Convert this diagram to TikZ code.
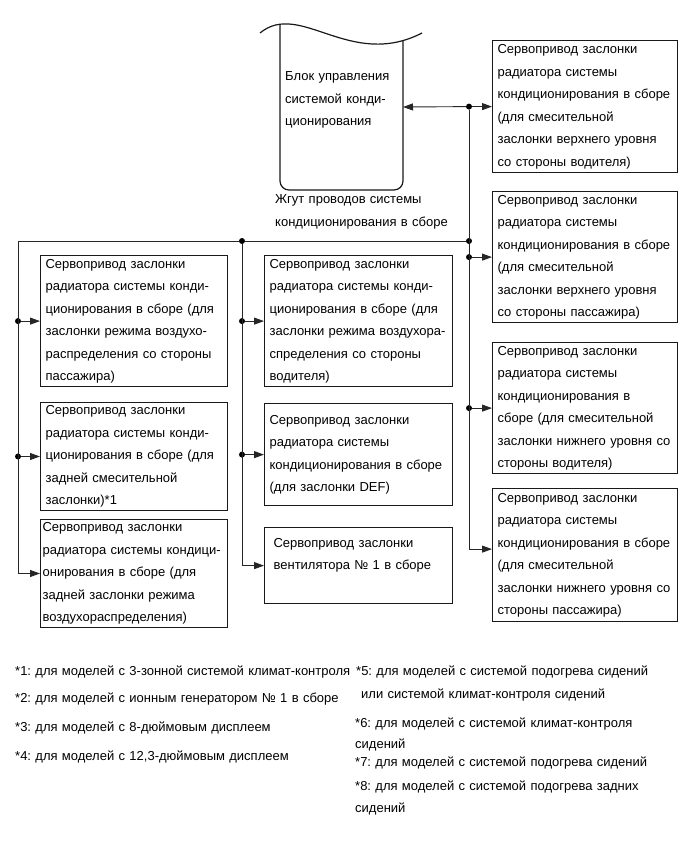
\documentclass[tikz,border=0pt]{standalone}
\usepackage{fontspec}
\setmainfont{Liberation Sans}
\usetikzlibrary{arrows.meta,calc}
\frenchspacing

\begin{document}
\begin{tikzpicture}[
    x=1pt, y=-1pt,
    font=\fontsize{13}{22.5}\selectfont,
    servo/.style={
        draw=black!90,
        line width=1.2pt,
        anchor=north west,
        align=left,
        inner xsep=5pt,
        inner ysep=3pt,
        text width=177pt
    },
    servoR/.style={servo, text width=175pt},
    servoM/.style={servo, text width=178pt},
    plain/.style={align=left, inner sep=0pt, anchor=base west, text width=#1},
    junct/.style={circle, fill=black, inner sep=0pt, minimum size=6pt},
    wire/.style={draw=black!85, line width=0.9pt},
    feed/.style={wire, -{Triangle[length=10pt,width=7pt]}},
    unitline/.style={draw=black!90, line width=1.2pt}
]
\useasboundingbox (0,0) rectangle (689,854);

% ------------------------------------------------------------
% блок управления
% ------------------------------------------------------------
\draw[unitline] (260,33) .. controls (300,0) and (350,70) .. (422,33);
\draw[unitline, rounded corners=9pt] (280,24.5) -- (280,190) -- (403,190) -- (403,40.5);
\node[plain=118pt] (ecu) at (285,80.5) {Блок управления\\системой конди-\\ционирования};
\coordinate (ecuport) at (403,107);

\node[plain=220pt] (harness) at (275,203.5) {Жгут проводов системы\\кондиционирования в сборе};

% ------------------------------------------------------------
% сервоприводы справа
% ------------------------------------------------------------
\node[servoR, minimum height=132pt] (r1) at (492,40) {Сервопривод заслонки\\радиатора системы\\кондиционирования в сборе\\(для смесительной\\заслонки верхнего уровня\\со стороны водителя)};
\node[servoR, minimum height=131pt] (r2) at (492,191) {Сервопривод заслонки\\радиатора системы\\кондиционирования в сборе\\(для смесительной\\заслонки верхнего уровня\\со стороны пассажира)};
\node[servoR, minimum height=131pt] (r3) at (492,342) {Сервопривод заслонки\\радиатора системы\\кондиционирования в\\сборе (для смесительной\\заслонки нижнего уровня со\\стороны водителя)};
\node[servoR, minimum height=133pt] (r4) at (492,488) {Сервопривод заслонки\\радиатора системы\\кондиционирования в сборе\\(для смесительной\\заслонки нижнего уровня со\\стороны пассажира)};

% ------------------------------------------------------------
% сервоприводы слева и в середине
% ------------------------------------------------------------
\node[servo, minimum height=131pt] (l1) at (40,255) {Сервопривод заслонки\\радиатора системы конди-\\ционирования в сборе (для\\заслонки режима воздухо-\\распределения со стороны\\пассажира)};
\node[servo, minimum height=103pt] (l2) at (40,402) {Сервопривод заслонки\\радиатора системы конди-\\ционирования в сборе (для\\задней смесительной\\заслонки)*1};
\node[servo, minimum height=105pt, inner xsep=2pt, text width=183pt] (l3) at (40,519) {Сервопривод заслонки\\радиатора системы кондици-\\онирования в сборе (для\\задней заслонки режима\\воздухораспределения)};

\node[servoM, minimum height=131pt] (m1) at (264,255) {Сервопривод заслонки\\радиатора системы конди-\\ционирования в сборе (для\\заслонки режима воздухора-\\спределения со стороны\\водителя)};
\node[servoM, minimum height=102pt] (m2) at (264,403) {Сервопривод заслонки\\радиатора системы\\кондиционирования в сборе\\(для заслонки DEF)};
\node[servoM, inner xsep=9pt, text width=170pt, text height=16.5pt, text depth=53.5pt] (m3) at (264,527) {Сервопривод заслонки\\вентилятора № 1 в сборе};

% ------------------------------------------------------------
% жгут: шины и узлы
% ------------------------------------------------------------
\coordinate (busR) at (469,0);
\coordinate (busM) at (242,0);
\coordinate (busL) at (18,0);

\node[junct] (hub) at (busR |- r1.west) {};
\node[junct] (split) at (469,241) {};
\node[junct] (splitM) at (242,241) {};
\coordinate (splitL) at (18,241);
\node[junct] (jr2) at (busR |- r2.west) {};
\node[junct] (jr3) at (busR |- r3.west) {};
\node[junct] (jl1) at (busL |- l1.west) {};
\node[junct] (jl2) at (busL |- l2.west) {};
\node[junct] (jm1) at (busM |- m1.west) {};
\node[junct] (jm2) at (busM |- m2.west) {};

\draw[feed] (hub) -- (ecuport);
\draw[feed] (hub) -- (r1);
\draw[feed] (hub) |- ([yshift=6pt]r4.west);
\draw[feed] (jr2) -- (r2);
\draw[feed] (jr3) -- (r3);

\draw[wire] (split) -- (splitM) -- (splitL);
\draw[feed] (splitL) |- (l3.west);
\draw[feed] (splitM) |- (m3.west);
\draw[feed] (jl1) -- (l1);
\draw[feed] (jl2) -- (l2);
\draw[feed] (jm1) -- (m1);
\draw[feed] (jm2) -- (m2);

% ------------------------------------------------------------
% примечания
% ------------------------------------------------------------
\node[plain=360pt] (fn1) at (15,675) {*1: для моделей с 3-зонной системой климат-контроля};
\node[plain=360pt] (fn2) at (15,702) {*2: для моделей с ионным генератором № 1 в сборе};
\node[plain=360pt] (fn3) at (15,731) {*3: для моделей с 8-дюймовым дисплеем};
\node[plain=360pt] (fn4) at (15,760) {*4: для моделей с 12,3-дюймовым дисплеем};

\node[plain=330pt] (fn5) at (356,675) {*5: для моделей с системой подогрева сидений\\[0.5pt]\hspace*{5pt}или системой климат-контроля сидений};
\node[plain=330pt] (fn6) at (355,727) {*6: для моделей с системой климат-контроля\\[-1.5pt]сидений};
\node[plain=330pt] (fn7) at (355,766) {*7: для моделей с системой подогрева сидений};
\node[plain=330pt] (fn8) at (355,790) {*8: для моделей с системой подогрева задних\\сидений};

\end{tikzpicture}
\end{document}
